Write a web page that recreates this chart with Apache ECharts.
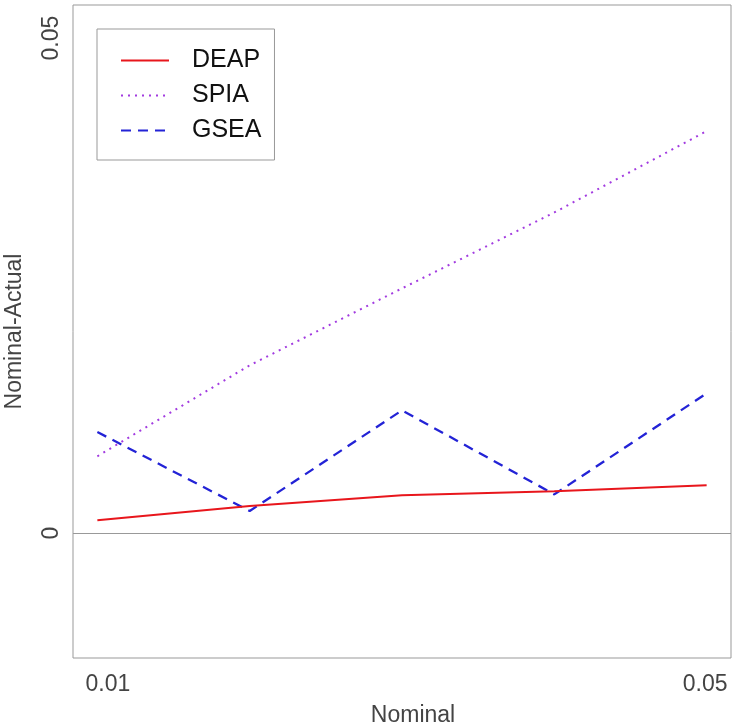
<!DOCTYPE html>
<html lang="en">
<head>
    <meta charset="UTF-8">
    <title>Nominal-Actual</title>
    <script src="https://cdn.jsdelivr.net/npm/echarts@6/dist/echarts.min.js"></script>
    <style>
        html, body { margin: 0; padding: 0; background: #fff; }
        #chart1 { width: 736px; height: 727px; }
    </style>
</head>
<body>
<div id="chart1"></div>
<script>
    // data
    var nominal = [0.01, 0.02, 0.03, 0.04, 0.05];
    var deap = [0.00128, 0.00273, 0.00381, 0.00421, 0.00482];
    var spia = [0.00775, 0.01694, 0.02471, 0.03238, 0.0406];
    var gsea = [0.0102, 0.00222, 0.01239, 0.0039, 0.01411];
    var xTicks = [0.01, 0.05];
    var yTicks = [0, 0.05];

    function pairs(ys) {
        return nominal.map(function (x, i) { return [x, ys[i]]; });
    }

    var font = 'Liberation Sans, Arial, Helvetica, sans-serif';
    var myChart = echarts.init(document.getElementById('chart1'), null, {renderer: 'canvas'});

    var option1 = {
        animation: false,
        backgroundColor: '#fff',
        textStyle: {fontFamily: font},
        grid: {
            left: 73, right: 5, top: 5, bottom: 69,
            outerBoundsMode: 'none',
            containLabel: false,
            show: true,
            borderColor: '#999',
            borderWidth: 1
        },
        legend: {
            orient: 'vertical',
            left: 97,
            top: 29,
            padding: [19, 13, 17, 23],
            borderColor: '#999',
            borderWidth: 1,
            itemWidth: 48,
            itemHeight: 14,
            itemGap: 10,
            itemStyle: {opacity: 0},
            textStyle: {fontSize: 25, color: '#111', fontFamily: font, padding: [0, 0, 0, 18]},
            data: ['DEAP', 'SPIA', 'GSEA']
        },
        xAxis: {
            type: 'value',
            min: 0.0084,
            max: 0.0516,
            name: 'Nominal',
            nameLocation: 'middle',
            nameGap: 46,
            nameTextStyle: {fontSize: 23, color: '#444', fontFamily: font, padding: [0, 0, 0, 22]},
            axisLine: {show: false},
            axisTick: {show: false},
            splitLine: {show: false},
            axisLabel: {
                customValues: xTicks,
                margin: 15,
                fontSize: 23,
                color: '#444',
                fontFamily: font,
                formatter: function (v) {
                    return v === 0.01 ? '{a|0.01}' : '{b|' + v + '}';
                },
                rich: {
                    a: {fontSize: 23, color: '#444', fontFamily: font, padding: [0, 0, 0, 21]},
                    b: {fontSize: 23, color: '#444', fontFamily: font, padding: [0, 3, 0, 0]}
                }
            }
        },
        yAxis: {
            type: 'value',
            min: -0.01263,
            max: 0.05334,
            name: 'Nominal-Actual',
            nameLocation: 'middle',
            nameGap: 47,
            nameTextStyle: {fontSize: 23, color: '#444', fontFamily: font},
            axisLine: {show: false},
            axisTick: {show: false},
            splitLine: {show: false},
            axisLabel: {
                customValues: yTicks,
                rotate: 90,
                margin: 10,
                fontSize: 23,
                color: '#444',
                fontFamily: font,
                formatter: function (v) { return String(v); }
            }
        },
        series: [
            {
                name: 'DEAP',
                type: 'line',
                data: pairs(deap),
                symbol: 'none',
                color: '#e8161c',
                lineStyle: {width: 2, type: 'solid', color: '#e8161c'},
                markLine: {
                    silent: true,
                    symbol: 'none',
                    label: {show: false},
                    lineStyle: {color: '#999', width: 1, type: 'solid'},
                    data: [{yAxis: 0}]
                },
                z: 3
            },
            {
                name: 'SPIA',
                type: 'line',
                data: pairs(spia),
                symbol: 'none',
                color: '#a23be0',
                lineStyle: {width: 2, type: [2, 5], color: '#a23be0'},
                z: 2
            },
            {
                name: 'GSEA',
                type: 'line',
                data: pairs(gsea),
                symbol: 'none',
                color: '#2323d6',
                lineStyle: {width: 2.3, type: [10, 7], color: '#2323d6'},
                z: 2
            }
        ]
    };
    myChart.setOption(option1);
</script>
</body>
</html>
